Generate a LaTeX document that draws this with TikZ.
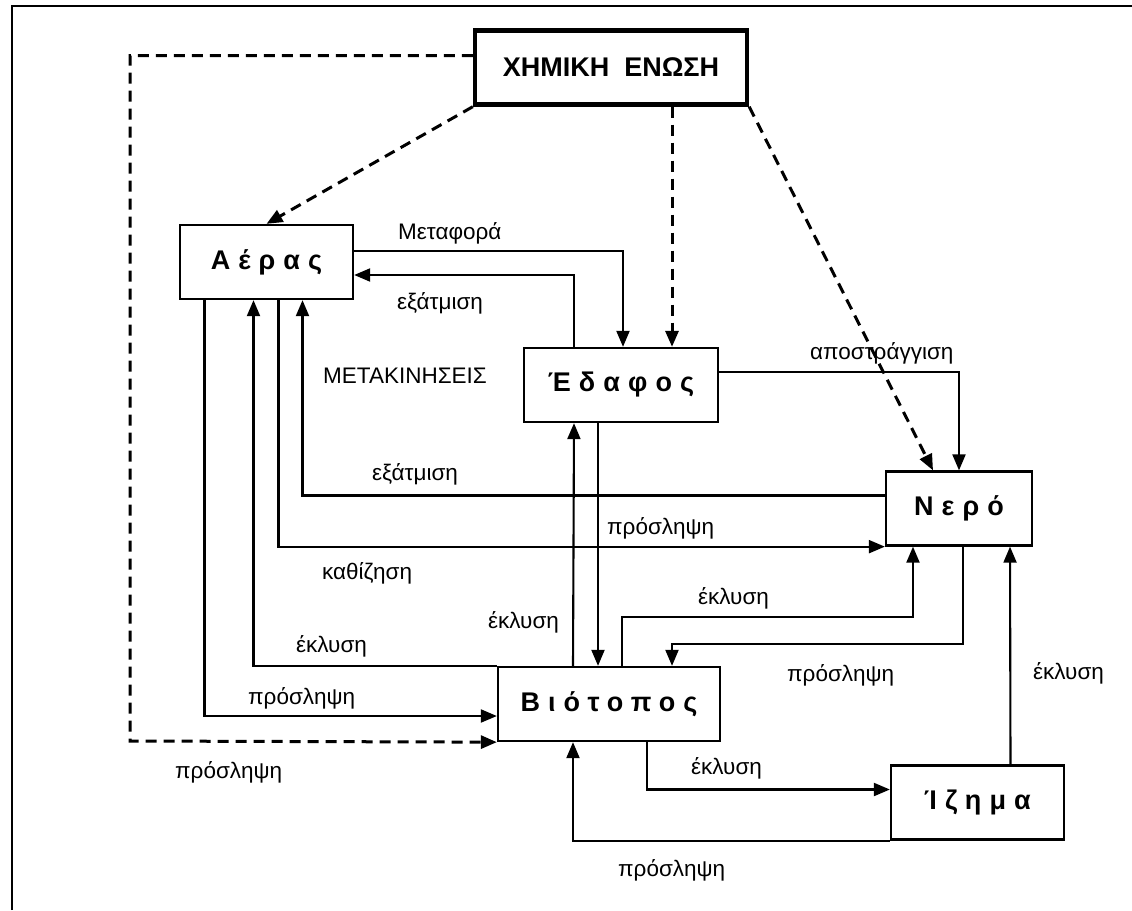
\documentclass[tikz,border=0pt]{standalone}
\usepackage{fontspec}
\setmainfont{Liberation Sans}
\newfontfamily\boxfont[LetterSpace=30]{Liberation Sans}
\usetikzlibrary{arrows.meta}

\begin{document}
\begin{tikzpicture}[x=1pt,y=-1pt,
  >={Triangle[length=16pt,width=13pt]},
  box/.style={draw,line width=2.3pt,minimum width=#1,minimum height=74pt,inner sep=0pt,
    font=\boxfont\bfseries\fontsize{27}{30}\selectfont},
  lbl/.style={anchor=west,inner sep=0pt,font=\fontsize{22.5}{26}\selectfont},
  arr/.style={->,line width=2.1pt},
  dasharr/.style={->,line width=3pt,dash pattern=on 11pt off 7pt}]
  \useasboundingbox (0,0) rectangle (1132,910);
  \draw[line width=2.5pt] (12,910) -- (12,6) -- (1132,6);

  % boxes
  \node[box=272pt,line width=4.4pt,font=\bfseries\fontsize{27}{30}\selectfont] (chem) at (611,67.5) {ΧΗΜΙΚΗ\ \ ΕΝΩΣΗ};
  \node[box=173pt] (aeras) at (266.5,262) {Αέρας};
  \node[box=194pt] (edafos) at (621,385) {Έδαφος};
  \node[box=146pt] (nero) at (959,508.5) {Νερό};
  \node[box=222pt] (biot) at (609,704) {Βιότοπος};
  \node[box=173pt] (izima) at (977.5,802.5) {Ίζημα};
  \coordinate (dl) at (130,741);

  % dashed links from the compound
  \draw[dasharr] (chem.south west) -- (aeras.north);
  \draw[dasharr] ([xshift=61pt]chem.south) -- ([xshift=51pt]edafos.north);
  \draw[dasharr] (chem.south east) -- ([xshift=-26pt]nero.north);
  \draw[dasharr] ([yshift=12pt]chem.west) -| (dl) -- (biot.south west);

  % air and soil
  \draw[arr] ([yshift=11pt]aeras.east) -| ([xshift=2pt]edafos.north);
  \draw[arr] ([xshift=-47pt]edafos.north) |- ([yshift=-13pt]aeras.east);
  \draw[arr] ([yshift=13pt]edafos.east) -| (nero.north);
  \draw[arr] ([yshift=13pt]nero.west) -| ([xshift=36pt]aeras.south);
  \draw[arr] ([xshift=12pt]aeras.south) |- (nero.south west);
  \draw[arr] ([xshift=-62pt]aeras.south) |- ([yshift=-12pt]biot.west);
  \draw[arr] (biot.north west) -| ([xshift=-13pt]aeras.south);

  % biotope
  \draw[arr] ([xshift=-36pt]biot.north) -- ([xshift=-47pt]edafos.south);
  \draw[arr] ([xshift=-23pt]edafos.south) -- ([xshift=-11pt]biot.north);
  \draw[arr] ([xshift=13pt]biot.north) -- ++(0,-49) -| ([xshift=-46pt]nero.south);
  \draw[arr] ([xshift=4pt]nero.south) -- ++(0,97) -| ([xshift=63pt]biot.north);
  \draw[arr] ([xshift=33pt]izima.north) -- ([xshift=51pt]nero.south);
  \draw[arr] ([xshift=38pt]biot.south) |- ([yshift=13pt]izima.west);
  \draw[arr] (izima.south west) -| ([xshift=-36pt]biot.south);

  % labels
  \node[lbl] (l1) at (398,233) {Μεταφορά};
  \node[lbl] (l2) at (397,303) {εξάτμιση};
  \node[lbl] (l3) at (323,376) {ΜΕΤΑΚΙΝΗΣΕΙΣ};
  \node[lbl] (l4) at (810,353) {αποστράγγιση};
  \node[lbl] (l5) at (372,474) {εξάτμιση};
  \node[lbl] (l6) at (607,528) {πρόσληψη};
  \node[lbl] (l7) at (322,573) {καθίζηση};
  \node[lbl] (l8) at (698,598) {έκλυση};
  \node[lbl] (l9) at (488,622) {έκλυση};
  \node[lbl] (l10) at (296,646) {έκλυση};
  \node[lbl] (l11) at (787,675) {πρόσληψη};
  \node[lbl] (l12) at (1033,673) {έκλυση};
  \node[lbl] (l13) at (248,698) {πρόσληψη};
  \node[lbl] (l14) at (175,772) {πρόσληψη};
  \node[lbl] (l15) at (691,768) {έκλυση};
  \node[lbl] (l16) at (618,870) {πρόσληψη};
\end{tikzpicture}
\end{document}
